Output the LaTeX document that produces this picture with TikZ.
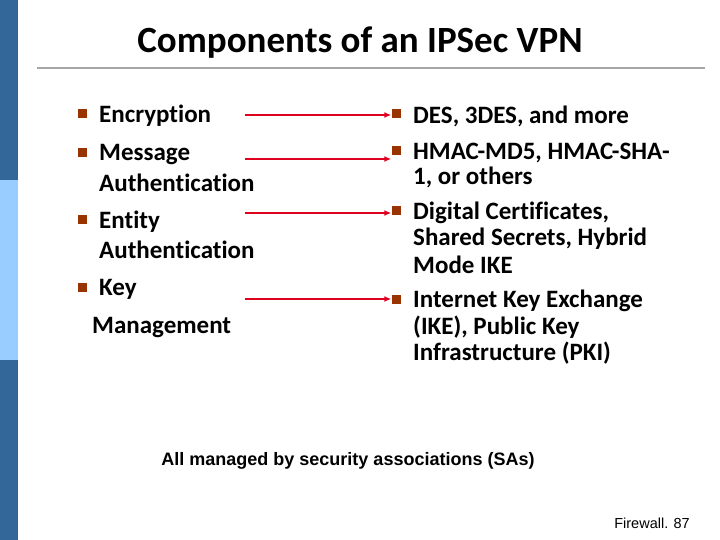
\documentclass[tikz,border=0pt]{standalone}
\usepackage{fontspec}
\usetikzlibrary{arrows.meta}
\setmainfont[Ligatures=NoCommon]{Carlito}
\newfontfamily\arialfont{Liberation Sans}
\begin{document}
\begin{tikzpicture}[x=1pt,y=-1pt,
  txt/.style={anchor=west,inner sep=0pt,font=\fontsize{25}{25}\selectfont\bfseries},
  bul/.style={fill=bulbrown,minimum size=9pt,inner sep=0pt},
  arr/.style={draw=arrred,line width=2.2pt,-{Latex[length=7pt,width=6pt]}}]
\definecolor{bulbrown}{HTML}{993300}
\definecolor{arrred}{HTML}{E00020}
\definecolor{dkblue}{HTML}{336699}
\definecolor{ltblue}{HTML}{99CCFF}
\useasboundingbox (0,0) rectangle (720,540);
\fill[white] (0,0) rectangle (720,540);
\fill[dkblue] (0,0) rectangle (18,180);
\fill[ltblue] (0,180) rectangle (18,360);
\fill[dkblue] (0,360) rectangle (18,540);
\node[inner sep=0pt,font=\fontsize{37}{37}\selectfont\bfseries] (title) at (360,43) {Components of an IPSec VPN};
\draw[gray!70,line width=1.5pt] (37,68) -- (705,68);
% left
\foreach \y/\n in {116/b1,155/b2,222/b3,289/b4}{\node[bul] (\n) at (82,\y-2) {};}
\node[txt] (l1) at (99,116) {Encryption};
\node[txt] (l2) at (99,155) {Message};
\node[txt] (l2b) at (99,183) {Authentication};
\node[txt] (l3) at (99,222) {Entity};
\node[txt] (l3b) at (99,250) {Authentication};
\node[txt] (l4) at (99,289) {Key};
\node[txt] (l4b) at (92,328) {Management};
% right
\foreach \y/\n in {116/c1,153/c2,213/c3,301/c4}{\node[bul] (\n) at (396,\y-2) {};}
\node[txt] (r1) at (413,116) {DES, 3DES, and more};
\node[txt] (r2) at (413,153) {HMAC-MD5, HMAC-SHA-};
\node[txt] (r2b) at (413,177) {1, or others};
\node[txt] (r3) at (413,213) {Digital Certificates,};
\node[txt] (r3b) at (413,239) {Shared Secrets, Hybrid};
\node[txt] (r3c) at (413,265) {Mode IKE};
\node[txt] (r4) at (413,301) {Internet Key Exchange};
\node[txt] (r4b) at (413,327) {(IKE), Public Key};
\node[txt] (r4c) at (413,353) {Infrastructure (PKI)};
% arrows
\foreach \y/\t in {115/c1,159/c2,213/c3,299/c4}{
  \coordinate (s\t) at (245,\y);
  \draw[arr] (s\t) -- (\t.west |- s\t);}
\node[inner sep=0pt,font=\arialfont\fontsize{18}{18}\selectfont\bfseries] (foot) at (348,461) {All managed by security associations (SAs)};
\node[anchor=east,inner sep=0pt,font=\arialfont\fontsize{14.5}{14.5}\selectfont] (pg) at (690,523) {Firewall. 87};
\end{tikzpicture}
\end{document}
